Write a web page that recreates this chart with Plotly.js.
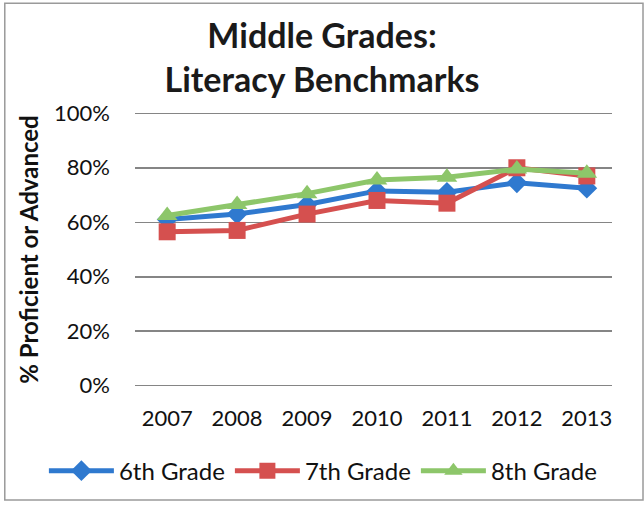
<!DOCTYPE html>
<html><head><meta charset="utf-8">
<script src="https://cdn.plot.ly/plotly-3.0.1.min.js"></script>
<style>body{margin:0;background:#fff}#chart{width:644px;height:506px}</style>
</head><body><div id="chart"></div>
<script>
const years = ['2007','2008','2009','2010','2011','2012','2013'];
const grade6 = [61, 63, 66.5, 71.5, 71, 74.5, 72.5];
const grade7 = [56.5, 57, 63, 68, 67, 80, 77];
const grade8 = [62.5, 66.5, 70.5, 75.5, 76.5, 79.5, 78];
const yTicks = [0, 20, 40, 60, 80, 100];
const yTickLabels = ['0%', '20%', '40%', '60%', '80%', '100%'];

const F = 'Lato, "Open Sans", sans-serif';
function tr(name, y, color, symbol, size) {
  return {x: years, y: y, name: name, type: 'scatter', mode: 'lines+markers',
    line: {color: color, width: 5}, marker: {symbol: symbol, size: size, color: color}};
}
const data = [
  tr('6th Grade', grade6, '#2f79cf', 'diamond', 16),
  tr('7th Grade', grade7, '#d5504f', 'square', 17),
  tr('8th Grade', grade8, '#8dc66a', 'triangle-up', 18)
];
const layout = {
  width: 644, height: 506,
  margin: {l: 135, r: 32, t: 110, b: 117, autoexpand: false},
  paper_bgcolor: '#fff', plot_bgcolor: '#fff',
  font: {family: F, color: '#111'},
  title: {text: '<b>Middle Grades:<br>Literacy Benchmarks</b>', font: {size: 34, family: F, color: '#1a1a1a'},
    x: 0.5, xanchor: 'center', y: 0.905, yanchor: 'top', yref: 'container'},
  xaxis: {type: 'category', range: [-0.46, 6.36], showgrid: false, zeroline: false, showline: false,
    ticks: '', tickfont: {size: 22, family: F, color: '#111'}, ticklabelstandoff: 14, fixedrange: true},
  yaxis: {range: [-1.2, 101.2], tickvals: yTicks, ticktext: yTickLabels, showgrid: true,
    gridcolor: '#858585', gridwidth: 1.5, zeroline: false, showline: false, ticks: '',
    tickfont: {size: 22, family: F, color: '#111'}, ticklabelstandoff: 24,
    title: {text: '<b>% Proficient or Advanced</b>', font: {size: 24, family: F, color: '#111'}, standoff: 8}},
  legend: {orientation: 'h', x: -0.191, xanchor: 'left', y: -0.294, yanchor: 'middle',
    font: {size: 24, family: F, color: '#111'}, itemwidth: 65, tracegroupgap: 0},
  showlegend: true,
  shapes: [{type: 'rect', xref: 'paper', yref: 'paper', x0: -0.273, x1: 1.065, y0: -0.398, y1: 1.383,
    line: {color: '#9a9a9a', width: 1.5}, fillcolor: 'rgba(0,0,0,0)'}]
};
Plotly.newPlot('chart', data, layout, {displayModeBar: false, staticPlot: true});
</script></body></html>
